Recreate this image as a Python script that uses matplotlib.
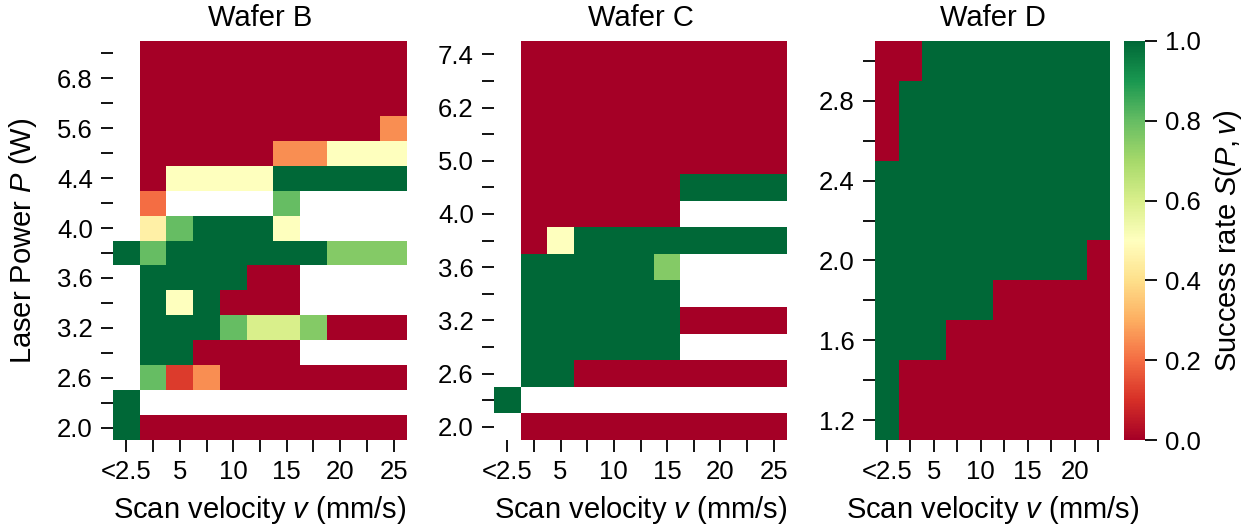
import numpy as np
import matplotlib
matplotlib.use("Agg")
import matplotlib.pyplot as plt

plt.rcParams['font.family'] = ['Liberation Sans', 'DejaVu Sans']
plt.rcParams['mathtext.fontset'] = 'custom'
plt.rcParams['mathtext.rm'] = 'Liberation Sans'
plt.rcParams['mathtext.it'] = 'Liberation Sans:italic'

n = np.nan

# scan velocities (columns) and laser powers (rows, from low to high)
velocities_bc = ["<2.5", "2.5", "5", "7.5", "10", "12.5", "15", "17.5", "20", "22.5", "25"]
velocities_d = ["<2.5", "2.5", "5", "7.5", "10", "12.5", "15", "17.5", "20", "22.5"]

powers_b = [2.0, 2.3, 2.6, 2.9, 3.2, 3.4, 3.6, 3.8, 4.0, 4.2, 4.4, 5.0, 5.6, 6.2, 6.8, 7.4]
powers_c = [2.0, 2.3, 2.6, 2.9, 3.2, 3.4, 3.6, 3.8, 4.0, 4.4, 5.0, 5.6, 6.2, 6.8, 7.4]
powers_d = [1.2, 1.4, 1.6, 1.8, 2.0, 2.2, 2.4, 2.6, 2.8, 3.0]

# success rate S(P, v), one row per power (low -> high), nan = not measured
success_b = [
    [1, 0, 0, 0, 0, 0, 0, 0, 0, 0, 0],
    [1, n, n, n, n, n, n, n, n, n, n],
    [n, 0.8, 0.12, 0.25, 0, 0, 0, 0, 0, 0, 0],
    [n, 1, 1, 0, 0, 0, 0, n, n, n, n],
    [n, 1, 1, 1, 0.8, 0.6, 0.6, 0.75, 0, 0, 0],
    [n, 1, 0.5, 1, 0, 0, 0, n, n, n, n],
    [n, 1, 1, 1, 1, 0, 0, n, n, n, n],
    [1, 0.8, 1, 1, 1, 1, 1, 1, 0.75, 0.75, 0.75],
    [n, 0.45, 0.8, 1, 1, 1, 0.5, n, n, n, n],
    [n, 0.2, n, n, n, n, 0.8, n, n, n, n],
    [n, 0, 0.5, 0.5, 0.5, 0.5, 1, 1, 1, 1, 1],
    [n, 0, 0, 0, 0, 0, 0.25, 0.25, 0.5, 0.5, 0.5],
    [n, 0, 0, 0, 0, 0, 0, 0, 0, 0, 0.25],
    [n, 0, 0, 0, 0, 0, 0, 0, 0, 0, 0],
    [n, 0, 0, 0, 0, 0, 0, 0, 0, 0, 0],
    [n, 0, 0, 0, 0, 0, 0, 0, 0, 0, 0],
]

success_c = [
    [n, 0, 0, 0, 0, 0, 0, 0, 0, 0, 0],
    [1, n, n, n, n, n, n, n, n, n, n],
    [n, 1, 1, 0, 0, 0, 0, 0, 0, 0, 0],
    [n, 1, 1, 1, 1, 1, 1, n, n, n, n],
    [n, 1, 1, 1, 1, 1, 1, 0, 0, 0, 0],
    [n, 1, 1, 1, 1, 1, 1, n, n, n, n],
    [n, 1, 1, 1, 1, 1, 0.75, n, n, n, n],
    [n, 0, 0.5, 1, 1, 1, 1, 1, 1, 1, 1],
    [n, 0, 0, 0, 0, 0, 0, n, n, n, n],
    [n, 0, 0, 0, 0, 0, 0, 1, 1, 1, 1],
    [n, 0, 0, 0, 0, 0, 0, 0, 0, 0, 0],
    [n, 0, 0, 0, 0, 0, 0, 0, 0, 0, 0],
    [n, 0, 0, 0, 0, 0, 0, 0, 0, 0, 0],
    [n, 0, 0, 0, 0, 0, 0, 0, 0, 0, 0],
    [n, 0, 0, 0, 0, 0, 0, 0, 0, 0, 0],
]

success_d = [
    [1, 0, 0, 0, 0, 0, 0, 0, 0, 0],
    [1, 0, 0, 0, 0, 0, 0, 0, 0, 0],
    [1, 1, 1, 0, 0, 0, 0, 0, 0, 0],
    [1, 1, 1, 1, 1, 0, 0, 0, 0, 0],
    [1, 1, 1, 1, 1, 1, 1, 1, 1, 0],
    [1, 1, 1, 1, 1, 1, 1, 1, 1, 1],
    [1, 1, 1, 1, 1, 1, 1, 1, 1, 1],
    [0, 1, 1, 1, 1, 1, 1, 1, 1, 1],
    [0, 1, 1, 1, 1, 1, 1, 1, 1, 1],
    [0, 0, 1, 1, 1, 1, 1, 1, 1, 1],
]

W, H = 1257, 529
fig = plt.figure(figsize=(W / 100, H / 100), dpi=100)

def px_axes(x0, x1, y0, y1):
    return fig.add_axes([x0 / W, 1 - y1 / H, (x1 - x0) / W, (y1 - y0) / H])

panels = [
    ("Wafer B", success_b, powers_b, velocities_bc, px_axes(113, 407, 41, 440)),
    ("Wafer C", success_c, powers_c, velocities_bc, px_axes(494, 787, 41, 440)),
    ("Wafer D", success_d, powers_d, velocities_d, px_axes(875, 1110, 41, 440)),
]

tick_fs = 18.5
label_fs = 21

for title, data, powers, vels, ax in panels:
    z = np.ma.masked_invalid(np.array(data, dtype=float))
    mesh = ax.pcolormesh(np.arange(len(vels) + 1), np.arange(len(powers) + 1), z,
                         cmap="RdYlGn", vmin=0, vmax=1, edgecolors="face", linewidth=0)
    ax.set_xlim(0, len(vels))
    ax.set_ylim(0, len(powers))
    for s in ax.spines.values():
        s.set_visible(False)
    ax.set_xticks(np.arange(len(vels)) + 0.5)
    ax.set_xticklabels([v if i % 2 == 0 else "" for i, v in enumerate(vels)])
    ax.set_yticks(np.arange(len(powers)) + 0.5)
    ax.set_yticklabels([f"{p:.1f}" if i % 2 == 0 else "" for i, p in enumerate(powers)])
    ax.tick_params(length=8.5, width=1.3, pad=6, labelsize=tick_fs)
    ax.set_title(title, fontsize=label_fs, pad=11)
    ax.set_xlabel(r"Scan velocity $v$ (mm/s)", fontsize=label_fs, labelpad=7)

panels[0][4].set_ylabel(r"Laser Power $P$ (W)", fontsize=label_fs, labelpad=13)

cax = px_axes(1124, 1145, 41, 440)
cb = fig.colorbar(mesh, cax=cax)
cb.outline.set_visible(False)
cb.set_ticks([0.0, 0.2, 0.4, 0.6, 0.8, 1.0])
cb.ax.tick_params(length=8.5, width=1.3, pad=6, labelsize=tick_fs)
cb.set_label(r"Success rate $S(P, v)$", fontsize=label_fs, labelpad=8)

fig.savefig("out.png", dpi=100)
